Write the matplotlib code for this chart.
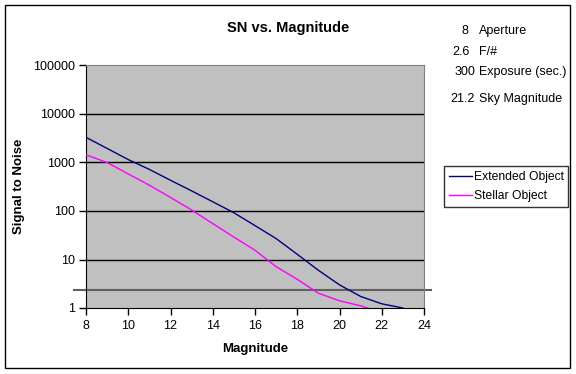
import matplotlib.pyplot as plt
from matplotlib.patches import Rectangle
from matplotlib.ticker import FixedLocator, NullLocator

plt.rcParams['font.family'] = ['Liberation Sans', 'DejaVu Sans']

# values
ext_mag = [8, 9, 10, 11, 12, 13, 14, 15, 16, 17, 18, 19, 20, 21, 22, 23]
ext_sn = [3300, 1950, 1150, 720, 430, 260, 155, 92, 50, 27, 12.8, 6.0, 3.0, 1.73, 1.22, 1.0]
star_mag = [8, 9, 10, 11, 12, 13, 14, 15, 16, 17, 18, 19, 20, 21, 21.35]
star_sn = [1440, 1000, 580, 340, 190, 105, 55, 29, 15.5, 7.1, 3.9, 2.02, 1.41, 1.11, 1.0]
limit_sn = 2.3

y_ticks = [1, 10, 100, 1000, 10000, 100000]
x_ticks = [8, 10, 12, 14, 16, 18, 20, 22, 24]

param_values = ['8', '2.6', '300', '21.2']
param_names = ['Aperture', 'F/#', 'Exposure (sec.)', 'Sky Magnitude']

W, H = 576, 374
fig = plt.figure(figsize=(5.76, 3.74), dpi=100)
fig.patch.set_facecolor('white')
fig.add_artist(Rectangle((5 / W, 1 - 368 / H), 565 / W, 363 / H, transform=fig.transFigure,
                         fill=False, edgecolor='black', linewidth=1))

ax = fig.add_axes([86 / W, 1 - 308 / H, 338 / W, 242.5 / H])
ax.set_facecolor('#C0C0C0')
ax.set_yscale('log')
ax.set_ylim(1, 100000)
ax.set_xlim(8, 24)

for v in y_ticks[1:-1]:
    ax.axhline(v, color='black', linewidth=1, zorder=1)

ax.plot(ext_mag, ext_sn, color='#000080', linewidth=1, label='Extended Object', zorder=3)
ax.plot(star_mag, star_sn, color='#FF00FF', linewidth=1, label='Stellar Object', zorder=3)
ax.axhline(limit_sn, xmin=-0.035, xmax=1.02, color='#606060', linewidth=1.5, clip_on=False, zorder=2)

ax.yaxis.set_major_locator(FixedLocator(y_ticks))
ax.yaxis.set_minor_locator(NullLocator())
ax.set_yticklabels([str(v) for v in y_ticks])
ax.set_xticks(x_ticks)
ax.tick_params(axis='both', direction='out', length=5, width=1, labelsize=9, colors='black')
ax.tick_params(axis='y', pad=3)

for s in ['top', 'right']:
    ax.spines[s].set_color('#808080')
for s in ['left', 'bottom']:
    ax.spines[s].set_color('black')

ax.set_xlabel('Magnitude', fontsize=9.5, fontweight='bold', labelpad=8)
ax.set_ylabel('Signal to Noise', fontsize=9.5, fontweight='bold', labelpad=6)
fig.text(288 / W, 1 - 28 / H, 'SN vs. Magnitude', ha='center', va='center',
         fontsize=10.5, fontweight='bold')

leg = ax.legend(loc='upper left', bbox_to_anchor=(444 / W, 1 - 166 / H),
                bbox_transform=fig.transFigure, fontsize=8.7, frameon=True, fancybox=False,
                handlelength=1.9, handletextpad=0.15, borderpad=0.4, labelspacing=0.6,
                borderaxespad=0)
leg.get_frame().set_edgecolor('black')
leg.get_frame().set_linewidth(1)

val_x = [468, 470, 475, 475]
row_y = [31, 52, 72, 99]
for vx, ry, v, n in zip(val_x, row_y, param_values, param_names):
    fig.text(vx / W, 1 - ry / H, v, ha='right', va='center', fontsize=9)
    fig.text(479 / W, 1 - ry / H, n, ha='left', va='center', fontsize=9)

fig.savefig('out.png', dpi=100)
